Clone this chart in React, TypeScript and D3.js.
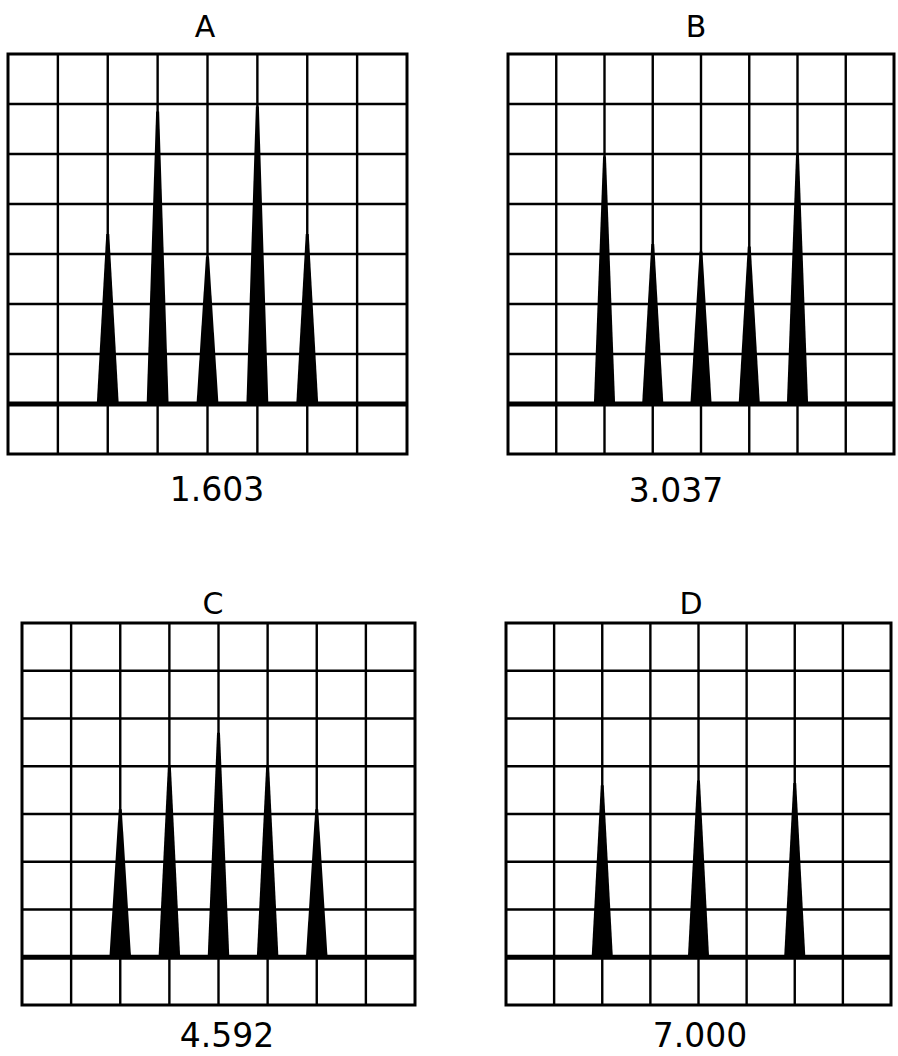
import React from "react";
import * as d3 from "d3";

// panel titles and the ratio printed under each screen
const titles = ["A", "B", "C", "D"];
const ratios = ["1.603", "3.037", "4.592", "7.000"];

// peak positions (grid divisions from the left) and heights (divisions above baseline)
const peakPosA = [2, 3, 4, 5, 6];
const peakHeightA = [3.4, 5.85, 2.95, 5.95, 3.4];
const peakPosB = [2, 3, 4, 5, 6];
const peakHeightB = [4.95, 3.2, 3.05, 3.15, 5.0];
const peakPosC = [2, 3, 4, 5, 6];
const peakHeightC = [3.1, 4.0, 4.7, 4.0, 3.1];
const peakPosD = [2, 4, 6];
const peakHeightD = [3.6, 3.7, 3.65];

const peakPos = [peakPosA, peakPosB, peakPosC, peakPosD];
const peakHeight = [peakHeightA, peakHeightB, peakHeightC, peakHeightD];

// screen boxes on the page
const boxes = [
  { x0: 8, x1: 407, y0: 54, y1: 454, titleX: 205, titleY: 37, labelX: 217, labelY: 501 },
  { x0: 508, x1: 894, y0: 54, y1: 454, titleX: 696, titleY: 37, labelX: 676, labelY: 502 },
  { x0: 22, x1: 415, y0: 623, y1: 1005, titleX: 213, titleY: 614, labelX: 227, labelY: 1047 },
  { x0: 506, x1: 891, y0: 623, y1: 1005, titleX: 691, titleY: 614, labelX: 700, labelY: 1047 },
];

const COLS = 8;
const font = "'DejaVu Sans', sans-serif";

function Panel({ i }: { i: number }) {
  const b = boxes[i];
  const x = d3.scaleLinear().domain([0, COLS]).range([b.x0, b.x1]);
  // baseline sits one division above the bottom edge
  const y = d3.scaleLinear().domain([-1, 7]).range([b.y1, b.y0]);

  const halfBase = 0.22;
  const halfTip = 0.03;
  const spike = (p: number, h: number) => {
    const path = d3.path();
    path.moveTo(x(p - halfBase), y(0));
    path.lineTo(x(p - halfTip), y(h));
    path.lineTo(x(p + halfTip), y(h));
    path.lineTo(x(p + halfBase), y(0));
    path.closePath();
    return path.toString();
  };

  return (
    <g>
      <text x={b.titleX} y={b.titleY} textAnchor="middle" fontFamily={font} fontSize={30}>
        {titles[i]}
      </text>
      {d3.range(1, COLS).map((c) => (
        <line key={"v" + c} x1={x(c)} x2={x(c)} y1={b.y0} y2={b.y1} stroke="#000" strokeWidth={2.4} />
      ))}
      {d3.range(0, 7).map((r) => (
        <line key={"h" + r} x1={b.x0} x2={b.x1} y1={y(r)} y2={y(r)} stroke="#000" strokeWidth={r === 0 ? 5 : 2.4} />
      ))}
      <rect x={b.x0} y={b.y0} width={b.x1 - b.x0} height={b.y1 - b.y0} fill="none" stroke="#000" strokeWidth={3} />
      {peakPos[i].map((p, k) => (
        <path key={k} d={spike(p, peakHeight[i][k])} fill="#000" />
      ))}
      <text x={b.labelX} y={b.labelY} textAnchor="middle" fontFamily={font} fontSize={33}>
        {ratios[i]}
      </text>
    </g>
  );
}

export default function App() {
  return (
    <svg
      width={898}
      height={1056}
      style={{ position: "absolute", left: 0, top: 0, background: "#fff" }}
    >
      {titles.map((t, i) => (
        <Panel key={t} i={i} />
      ))}
    </svg>
  );
}
